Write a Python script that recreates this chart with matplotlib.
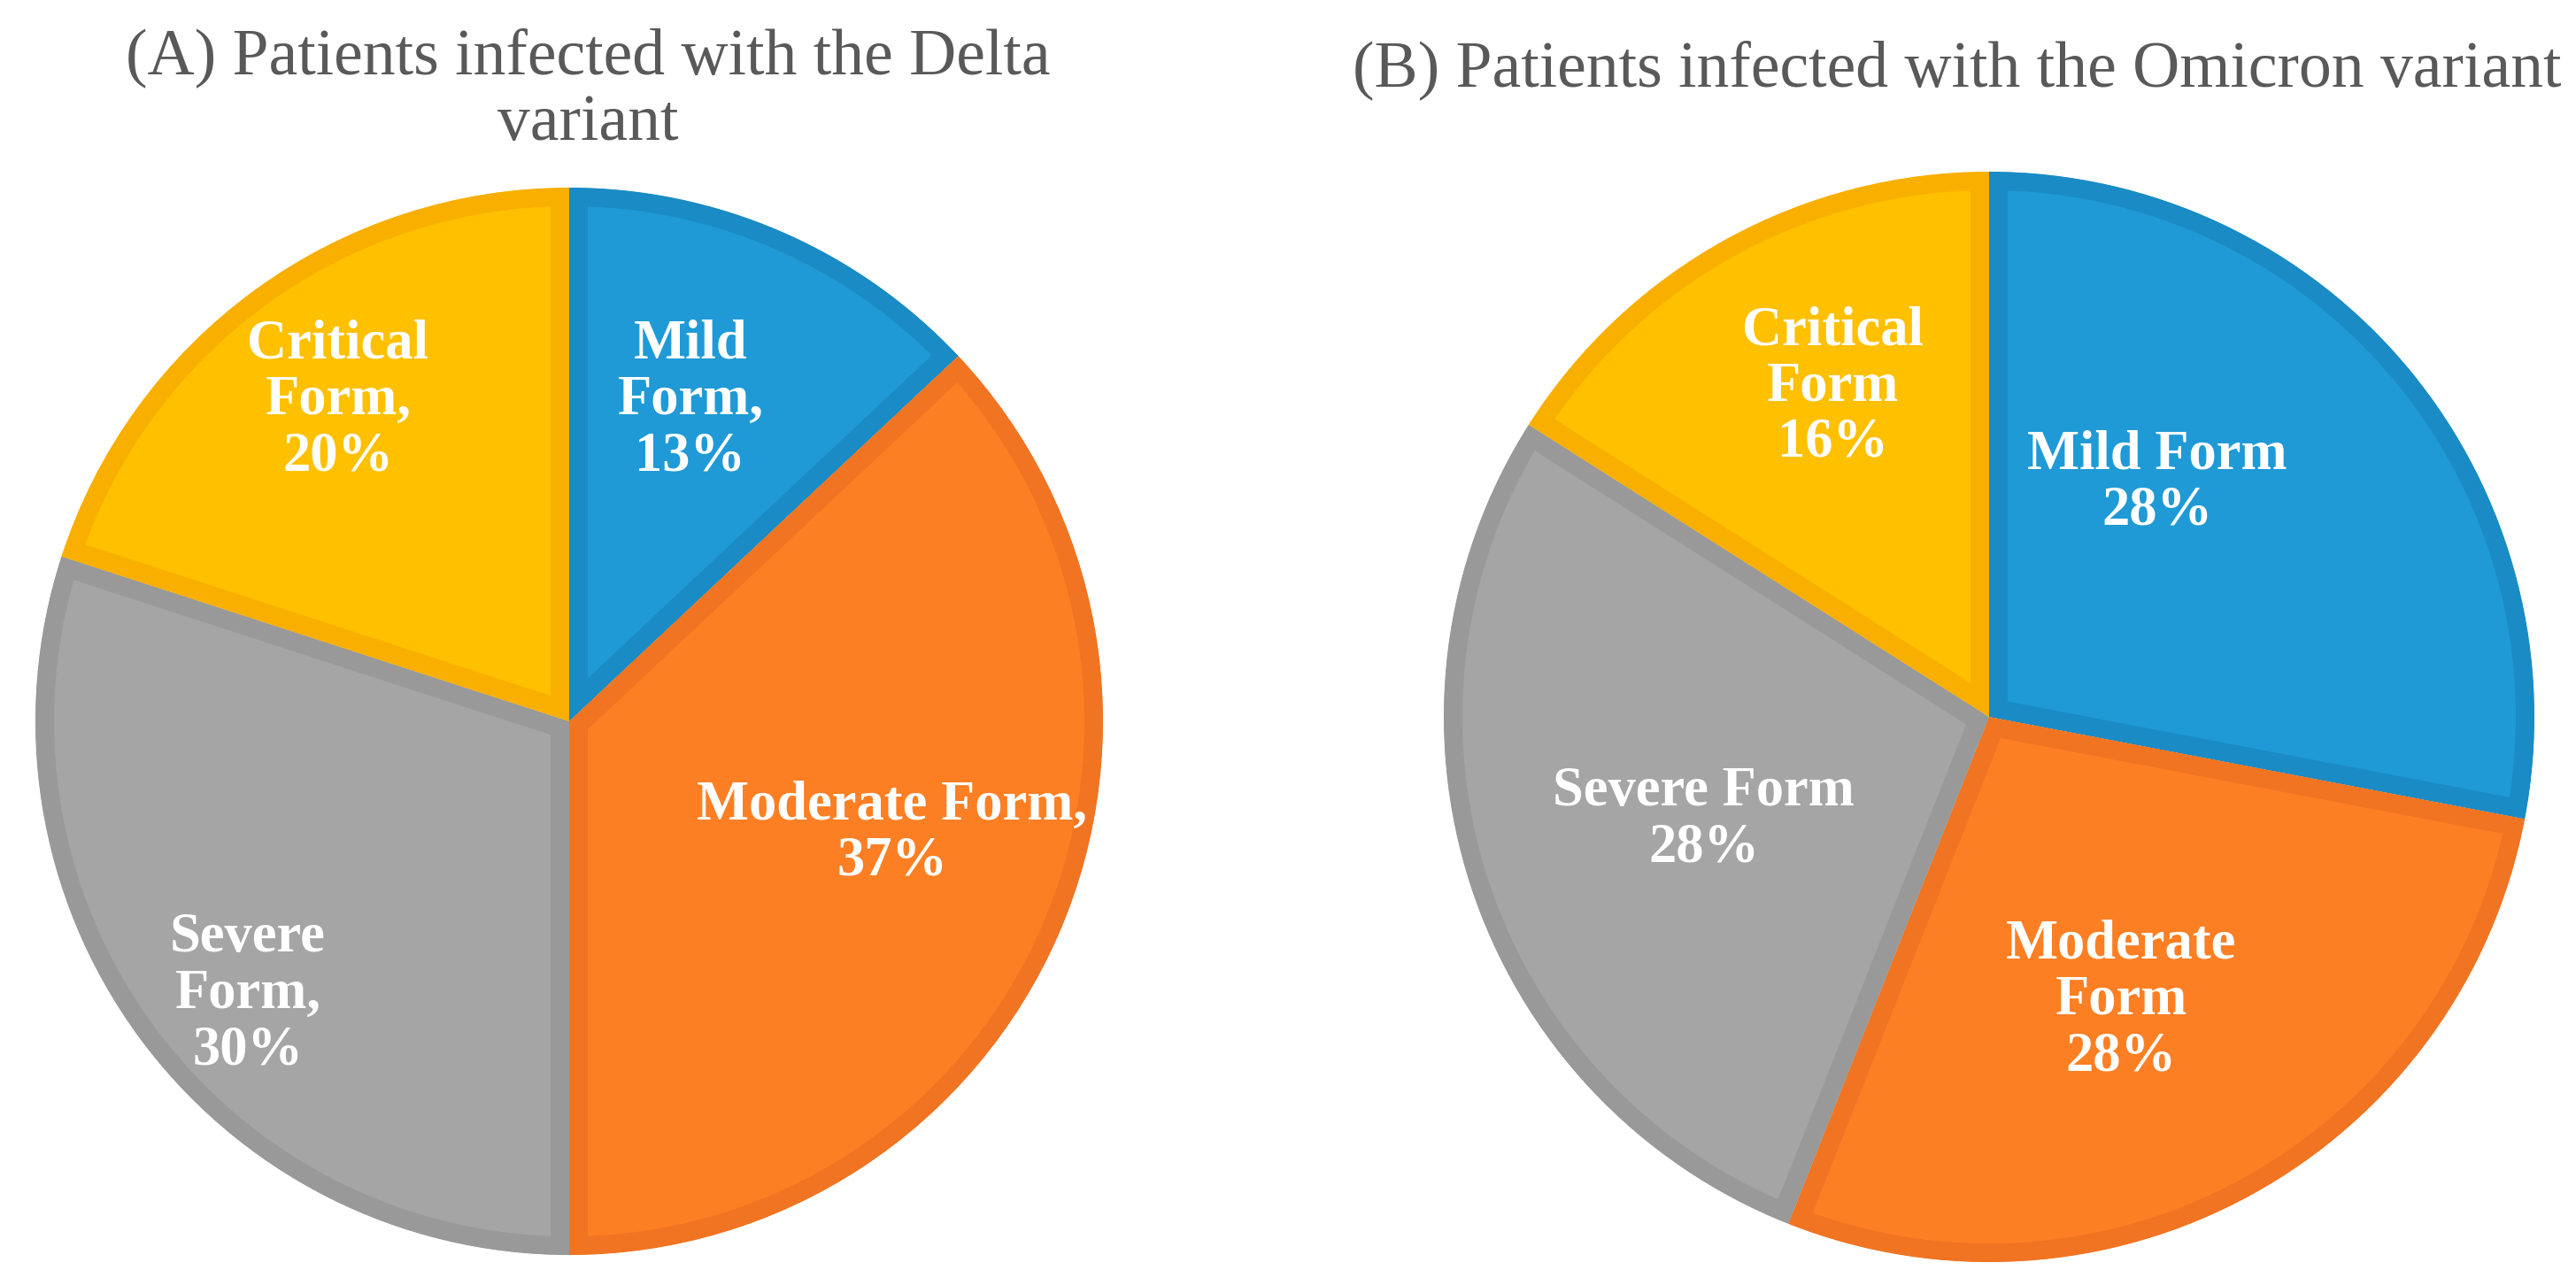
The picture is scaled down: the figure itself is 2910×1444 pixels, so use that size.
import matplotlib
matplotlib.use("Agg")
import matplotlib.pyplot as plt

# ---- data ----
categories_a = ["Mild\nForm,", "Moderate Form,", "Severe\nForm,", "Critical\nForm,"]
values_a = [13, 37, 30, 20]
categories_b = ["Mild Form", "Moderate\nForm", "Severe Form", "Critical\nForm"]
values_b = [28, 28, 28, 16]
title_a = ["(A) Patients infected with the Delta", "variant"]
title_b = "(B) Patients infected with the Omicron variant"

# ---- styles ----
face_colors = ["#1F9AD6", "#FD7F24", "#A5A5A5", "#FFC000"]
edge_colors = ["#1A8BC4", "#F07422", "#999999", "#F9AF00"]

W, H = 2910, 1444
DPI = 100
fig = plt.figure(figsize=(W / DPI, H / DPI), dpi=DPI)
ax = fig.add_axes([0, 0, 1, 1])

border_px = 21
lw_pt = 2 * border_px * 72 / DPI

# label offsets in units of radius (relative to pie center)
offsets_a = [(0.227, 0.600), (0.605, -0.211), (-0.602, -0.512), (-0.433, 0.600)]
offsets_b = [(0.308, 0.428), (0.242, -0.521), (-0.523, -0.190), (-0.287, 0.605)]

serif = ["Liberation Serif", "DejaVu Serif"]


def draw_pie(values, cats, center, radius, offsets):
    wedges, _ = ax.pie(values, colors=face_colors, startangle=90,
                       counterclock=False, center=center, radius=radius,
                       frame=True)
    for w, ec in zip(wedges, edge_colors):
        w.set_edgecolor(ec)
        w.set_linewidth(lw_pt)
        w.set_joinstyle("miter")
        w.set_clip_on(True)
        w.set_clip_path(w)
    for v, c, (ox, oy) in zip(values, cats, offsets):
        ax.text(center[0] + ox * radius, center[1] + oy * radius,
                f"{c}\n{v}%", ha="center", va="center", color="white",
                fontsize=45, fontweight="bold", family=serif,
                linespacing=1.12, zorder=5)


draw_pie(values_a, categories_a, (643, H - 815), 603, offsets_a)
draw_pie(values_b, categories_b, (2247, H - 810), 616, offsets_b)
ax.set_xlim(0, W)
ax.set_ylim(0, H)
ax.set_aspect("equal")
ax.axis("off")

title_color = "#595959"
fig.text(664 / W, 1 - 83 / H, title_a[0], ha="center", va="baseline",
         fontsize=53, color=title_color, family=serif)
fig.text(664 / W, 1 - 158 / H, title_a[1], ha="center", va="baseline",
         fontsize=53, color=title_color, family=serif)
fig.text(2211 / W, 1 - 97 / H, title_b, ha="center", va="baseline",
         fontsize=53, color=title_color, family=serif)

fig.savefig("out.png", dpi=DPI, facecolor="white")
